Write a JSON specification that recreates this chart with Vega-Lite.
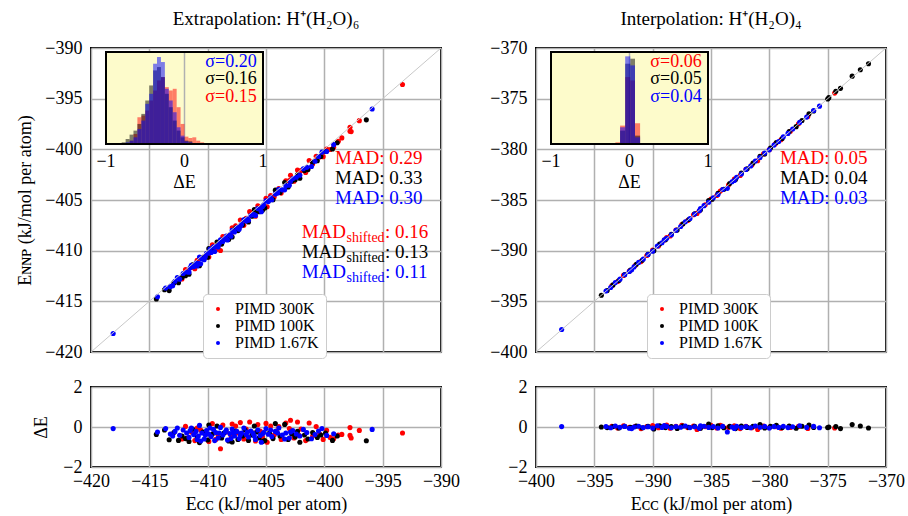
{
"$schema": "https://vega.github.io/schema/vega-lite/v6.json",
"padding": {"left": 15, "top": 9, "right": 10, "bottom": 5},
"config": {
  "font": "Liberation Serif",
  "view": {"stroke": "black", "strokeWidth": 2},
  "axis": {"gridColor": "#b0b0b0", "gridWidth": 1.5, "gridOpacity": 1, "labelColor": "black", "titleColor": "black", "labelFontSize": 18, "titleFontSize": 18, "titleFontWeight": "normal", "ticks": false, "domain": false, "labelFont": "Liberation Serif", "titleFont": "Liberation Serif", "labelFlush": false, "labelOverlap": false},
  "legend": {"labelFontSize": 16, "labelFont": "Liberation Serif", "labelColor": "black", "symbolSize": 16, "symbolType": "circle", "symbolStrokeWidth": 0, "padding": 7, "rowPadding": 1, "labelOffset": 9, "fillColor": "#ffffff", "strokeColor": "#cccccc", "cornerRadius": 4},
  "title": {"font": "Liberation Serif", "fontSize": 19, "fontWeight": "normal", "color": "black", "offset": 10}
},
"datasets": {
"e": [
{"s":"PIMD 300K","x":-411.9,"y":-411.87,"d":0.03},
{"s":"PIMD 300K","x":-411.7,"y":-412.25,"d":-0.55},
{"s":"PIMD 300K","x":-411.1,"y":-411.78,"d":-0.68},
{"s":"PIMD 300K","x":-410.6,"y":-410.75,"d":-0.15},
{"s":"PIMD 300K","x":-409.6,"y":-409.43,"d":0.17},
{"s":"PIMD 300K","x":-409.3,"y":-409.92,"d":-0.62},
{"s":"PIMD 300K","x":-408.9,"y":-409.99,"d":-1.09},
{"s":"PIMD 300K","x":-408.7,"y":-408.60,"d":0.10},
{"s":"PIMD 300K","x":-408.0,"y":-408.45,"d":-0.45},
{"s":"PIMD 300K","x":-407.6,"y":-407.55,"d":0.05},
{"s":"PIMD 300K","x":-407.2,"y":-406.98,"d":0.22},
{"s":"PIMD 300K","x":-406.9,"y":-407.50,"d":-0.60},
{"s":"PIMD 300K","x":-406.4,"y":-406.15,"d":0.25},
{"s":"PIMD 300K","x":-406.1,"y":-406.40,"d":-0.30},
{"s":"PIMD 300K","x":-405.7,"y":-405.58,"d":0.12},
{"s":"PIMD 300K","x":-405.3,"y":-405.80,"d":-0.50},
{"s":"PIMD 300K","x":-404.9,"y":-405.66,"d":-0.76},
{"s":"PIMD 300K","x":-404.6,"y":-404.55,"d":0.05},
{"s":"PIMD 300K","x":-404.1,"y":-404.30,"d":-0.20},
{"s":"PIMD 300K","x":-403.7,"y":-404.32,"d":-0.62},
{"s":"PIMD 300K","x":-403.3,"y":-403.10,"d":0.20},
{"s":"PIMD 300K","x":-402.9,"y":-402.56,"d":0.34},
{"s":"PIMD 300K","x":-402.6,"y":-403.15,"d":-0.55},
{"s":"PIMD 300K","x":-402.3,"y":-402.05,"d":0.25},
{"s":"PIMD 300K","x":-402.0,"y":-402.10,"d":-0.10},
{"s":"PIMD 300K","x":-401.6,"y":-402.28,"d":-0.68},
{"s":"PIMD 300K","x":-401.3,"y":-401.10,"d":0.20},
{"s":"PIMD 300K","x":-401.0,"y":-401.45,"d":-0.45},
{"s":"PIMD 300K","x":-400.7,"y":-400.68,"d":0.02},
{"s":"PIMD 300K","x":-400.4,"y":-400.75,"d":-0.35},
{"s":"PIMD 300K","x":-399.8,"y":-399.97,"d":-0.17},
{"s":"PIMD 300K","x":-399.5,"y":-400.02,"d":-0.52},
{"s":"PIMD 300K","x":-399.2,"y":-399.79,"d":-0.59},
{"s":"PIMD 300K","x":-398.8,"y":-399.20,"d":-0.40},
{"s":"PIMD 300K","x":-398.5,"y":-398.87,"d":-0.37},
{"s":"PIMD 300K","x":-397.8,"y":-397.83,"d":-0.03},
{"s":"PIMD 300K","x":-397.8,"y":-398.22,"d":-0.42},
{"s":"PIMD 300K","x":-397.7,"y":-398.25,"d":-0.55},
{"s":"PIMD 300K","x":-397.0,"y":-397.17,"d":-0.17},
{"s":"PIMD 300K","x":-393.3,"y":-393.60,"d":-0.30},
{"s":"PIMD 300K","x":-410.2,"y":-410.55,"d":-0.35},
{"s":"PIMD 300K","x":-409.9,"y":-410.62,"d":-0.72},
{"s":"PIMD 300K","x":-408.4,"y":-408.65,"d":-0.25},
{"s":"PIMD 300K","x":-407.9,"y":-407.75,"d":0.15},
{"s":"PIMD 300K","x":-406.7,"y":-406.80,"d":-0.10},
{"s":"PIMD 300K","x":-405.9,"y":-406.60,"d":-0.70},
{"s":"PIMD 300K","x":-405.0,"y":-404.82,"d":0.18},
{"s":"PIMD 300K","x":-404.3,"y":-404.70,"d":-0.40},
{"s":"PIMD 300K","x":-403.0,"y":-403.08,"d":-0.08},
{"s":"PIMD 300K","x":-412.2,"y":-412.80,"d":-0.60},
{"s":"PIMD 300K","x":-411.4,"y":-411.65,"d":-0.25},
{"s":"PIMD 300K","x":-400.1,"y":-400.72,"d":-0.62},
{"s":"PIMD 300K","x":-410.9,"y":-410.95,"d":-0.05},
{"s":"PIMD 300K","x":-409.1,"y":-409.50,"d":-0.40},
{"s":"PIMD 300K","x":-407.4,"y":-407.70,"d":-0.30},
{"s":"PIMD 300K","x":-405.5,"y":-405.70,"d":-0.20},
{"s":"PIMD 300K","x":-403.9,"y":-403.88,"d":0.02},
{"s":"PIMD 300K","x":-402.2,"y":-402.60,"d":-0.40},
{"s":"PIMD 100K","x":-414.4,"y":-414.77,"d":-0.37},
{"s":"PIMD 100K","x":-413.3,"y":-413.94,"d":-0.64},
{"s":"PIMD 100K","x":-413.7,"y":-413.85,"d":-0.15},
{"s":"PIMD 100K","x":-412.5,"y":-413.17,"d":-0.67},
{"s":"PIMD 100K","x":-412.9,"y":-413.18,"d":-0.28},
{"s":"PIMD 100K","x":-411.6,"y":-412.32,"d":-0.72},
{"s":"PIMD 100K","x":-412.2,"y":-412.65,"d":-0.45},
{"s":"PIMD 100K","x":-411.3,"y":-411.40,"d":-0.10},
{"s":"PIMD 100K","x":-410.9,"y":-411.40,"d":-0.50},
{"s":"PIMD 100K","x":-410.4,"y":-410.65,"d":-0.25},
{"s":"PIMD 100K","x":-410.0,"y":-410.65,"d":-0.65},
{"s":"PIMD 100K","x":-409.6,"y":-409.95,"d":-0.35},
{"s":"PIMD 100K","x":-409.2,"y":-409.15,"d":0.05},
{"s":"PIMD 100K","x":-408.8,"y":-409.35,"d":-0.55},
{"s":"PIMD 100K","x":-408.6,"y":-408.90,"d":-0.30},
{"s":"PIMD 100K","x":-408.2,"y":-408.90,"d":-0.70},
{"s":"PIMD 100K","x":-407.6,"y":-407.80,"d":-0.20},
{"s":"PIMD 100K","x":-407.4,"y":-408.02,"d":-0.62},
{"s":"PIMD 100K","x":-407.0,"y":-407.45,"d":-0.45},
{"s":"PIMD 100K","x":-406.8,"y":-406.95,"d":-0.15},
{"s":"PIMD 100K","x":-406.5,"y":-407.17,"d":-0.67},
{"s":"PIMD 100K","x":-406.2,"y":-406.60,"d":-0.40},
{"s":"PIMD 100K","x":-405.8,"y":-406.05,"d":-0.25},
{"s":"PIMD 100K","x":-405.6,"y":-406.15,"d":-0.55},
{"s":"PIMD 100K","x":-405.1,"y":-405.78,"d":-0.68},
{"s":"PIMD 100K","x":-404.7,"y":-405.00,"d":-0.30},
{"s":"PIMD 100K","x":-404.2,"y":-404.03,"d":0.17},
{"s":"PIMD 100K","x":-404.4,"y":-404.98,"d":-0.58},
{"s":"PIMD 100K","x":-403.8,"y":-404.25,"d":-0.45},
{"s":"PIMD 100K","x":-403.4,"y":-403.27,"d":0.13},
{"s":"PIMD 100K","x":-403.1,"y":-403.72,"d":-0.62},
{"s":"PIMD 100K","x":-402.8,"y":-403.15,"d":-0.35},
{"s":"PIMD 100K","x":-402.5,"y":-403.00,"d":-0.50},
{"s":"PIMD 100K","x":-402.1,"y":-402.86,"d":-0.76},
{"s":"PIMD 100K","x":-402.3,"y":-402.52,"d":-0.22},
{"s":"PIMD 100K","x":-401.7,"y":-402.10,"d":-0.40},
{"s":"PIMD 100K","x":-401.4,"y":-402.00,"d":-0.60},
{"s":"PIMD 100K","x":-401.0,"y":-401.28,"d":-0.28},
{"s":"PIMD 100K","x":-400.6,"y":-401.12,"d":-0.52},
{"s":"PIMD 100K","x":-400.3,"y":-400.70,"d":-0.40},
{"s":"PIMD 100K","x":-399.9,"y":-400.20,"d":-0.30},
{"s":"PIMD 100K","x":-399.3,"y":-399.97,"d":-0.67},
{"s":"PIMD 100K","x":-398.9,"y":-399.35,"d":-0.45},
{"s":"PIMD 100K","x":-396.4,"y":-397.09,"d":-0.69},
{"s":"PIMD 100K","x":-407.9,"y":-408.65,"d":-0.75},
{"s":"PIMD 100K","x":-409.9,"y":-409.80,"d":0.10},
{"s":"PIMD 100K","x":-406.0,"y":-405.95,"d":0.05},
{"s":"PIMD 100K","x":-411.9,"y":-412.48,"d":-0.58},
{"s":"PIMD 100K","x":-410.7,"y":-411.48,"d":-0.78},
{"s":"PIMD 100K","x":-405.3,"y":-406.02,"d":-0.72},
{"s":"PIMD 1.67K","x":-418.1,"y":-418.18,"d":-0.08},
{"s":"PIMD 1.67K","x":-414.3,"y":-414.55,"d":-0.25},
{"s":"PIMD 1.67K","x":-413.6,"y":-413.68,"d":-0.08},
{"s":"PIMD 1.67K","x":-413.2,"y":-413.55,"d":-0.35},
{"s":"PIMD 1.67K","x":-412.8,"y":-413.02,"d":-0.22},
{"s":"PIMD 1.67K","x":-412.4,"y":-412.81,"d":-0.41},
{"s":"PIMD 1.67K","x":-412.1,"y":-412.25,"d":-0.15},
{"s":"PIMD 1.67K","x":-411.8,"y":-412.10,"d":-0.30},
{"s":"PIMD 1.67K","x":-411.6,"y":-412.12,"d":-0.52},
{"s":"PIMD 1.67K","x":-411.4,"y":-411.45,"d":-0.05},
{"s":"PIMD 1.67K","x":-411.2,"y":-411.58,"d":-0.38},
{"s":"PIMD 1.67K","x":-411.0,"y":-411.22,"d":-0.22},
{"s":"PIMD 1.67K","x":-410.8,"y":-411.25,"d":-0.45},
{"s":"PIMD 1.67K","x":-410.7,"y":-410.62,"d":0.08},
{"s":"PIMD 1.67K","x":-410.5,"y":-410.80,"d":-0.30},
{"s":"PIMD 1.67K","x":-410.3,"y":-410.90,"d":-0.60},
{"s":"PIMD 1.67K","x":-410.1,"y":-410.28,"d":-0.18},
{"s":"PIMD 1.67K","x":-409.9,"y":-410.25,"d":-0.35},
{"s":"PIMD 1.67K","x":-409.7,"y":-410.18,"d":-0.48},
{"s":"PIMD 1.67K","x":-409.5,"y":-409.62,"d":-0.12},
{"s":"PIMD 1.67K","x":-409.3,"y":-409.58,"d":-0.28},
{"s":"PIMD 1.67K","x":-409.1,"y":-409.65,"d":-0.55},
{"s":"PIMD 1.67K","x":-408.9,"y":-408.92,"d":-0.02},
{"s":"PIMD 1.67K","x":-408.7,"y":-409.10,"d":-0.40},
{"s":"PIMD 1.67K","x":-408.5,"y":-408.75,"d":-0.25},
{"s":"PIMD 1.67K","x":-408.3,"y":-408.95,"d":-0.65},
{"s":"PIMD 1.67K","x":-408.1,"y":-408.43,"d":-0.33},
{"s":"PIMD 1.67K","x":-407.9,"y":-408.00,"d":-0.10},
{"s":"PIMD 1.67K","x":-407.7,"y":-408.15,"d":-0.45},
{"s":"PIMD 1.67K","x":-407.5,"y":-407.72,"d":-0.22},
{"s":"PIMD 1.67K","x":-407.3,"y":-407.88,"d":-0.58},
{"s":"PIMD 1.67K","x":-407.1,"y":-407.40,"d":-0.30},
{"s":"PIMD 1.67K","x":-406.9,"y":-406.95,"d":-0.05},
{"s":"PIMD 1.67K","x":-406.7,"y":-407.08,"d":-0.38},
{"s":"PIMD 1.67K","x":-406.5,"y":-407.00,"d":-0.50},
{"s":"PIMD 1.67K","x":-406.3,"y":-406.50,"d":-0.20},
{"s":"PIMD 1.67K","x":-406.1,"y":-406.42,"d":-0.32},
{"s":"PIMD 1.67K","x":-405.9,"y":-406.52,"d":-0.62},
{"s":"PIMD 1.67K","x":-405.7,"y":-405.85,"d":-0.15},
{"s":"PIMD 1.67K","x":-405.5,"y":-405.92,"d":-0.42},
{"s":"PIMD 1.67K","x":-405.4,"y":-406.16,"d":-0.76},
{"s":"PIMD 1.67K","x":-405.2,"y":-405.48,"d":-0.28},
{"s":"PIMD 1.67K","x":-405.0,"y":-405.08,"d":-0.08},
{"s":"PIMD 1.67K","x":-404.8,"y":-405.16,"d":-0.36},
{"s":"PIMD 1.67K","x":-404.5,"y":-404.98,"d":-0.48},
{"s":"PIMD 1.67K","x":-404.2,"y":-404.42,"d":-0.22},
{"s":"PIMD 1.67K","x":-403.9,"y":-403.95,"d":-0.05},
{"s":"PIMD 1.67K","x":-403.6,"y":-404.00,"d":-0.40},
{"s":"PIMD 1.67K","x":-403.3,"y":-403.60,"d":-0.30},
{"s":"PIMD 1.67K","x":-403.0,"y":-403.55,"d":-0.55},
{"s":"PIMD 1.67K","x":-402.7,"y":-402.88,"d":-0.18},
{"s":"PIMD 1.67K","x":-402.4,"y":-402.75,"d":-0.35},
{"s":"PIMD 1.67K","x":-402.1,"y":-402.55,"d":-0.45},
{"s":"PIMD 1.67K","x":-401.8,"y":-401.92,"d":-0.12},
{"s":"PIMD 1.67K","x":-401.5,"y":-401.78,"d":-0.28},
{"s":"PIMD 1.67K","x":-401.1,"y":-401.69,"d":-0.59},
{"s":"PIMD 1.67K","x":-400.8,"y":-401.18,"d":-0.38},
{"s":"PIMD 1.67K","x":-400.5,"y":-400.70,"d":-0.20},
{"s":"PIMD 1.67K","x":-400.2,"y":-400.28,"d":-0.08},
{"s":"PIMD 1.67K","x":-399.8,"y":-400.22,"d":-0.42},
{"s":"PIMD 1.67K","x":-399.2,"y":-399.54,"d":-0.34},
{"s":"PIMD 1.67K","x":-395.9,"y":-396.02,"d":-0.12},
{"s":"PIMD 1.67K","x":-411.5,"y":-411.68,"d":-0.18},
{"s":"PIMD 1.67K","x":-410.9,"y":-411.52,"d":-0.62},
{"s":"PIMD 1.67K","x":-410.2,"y":-410.60,"d":-0.40},
{"s":"PIMD 1.67K","x":-409.8,"y":-409.85,"d":-0.05},
{"s":"PIMD 1.67K","x":-409.0,"y":-409.30,"d":-0.30},
{"s":"PIMD 1.67K","x":-408.4,"y":-408.55,"d":-0.15},
{"s":"PIMD 1.67K","x":-407.8,"y":-408.08,"d":-0.28},
{"s":"PIMD 1.67K","x":-407.2,"y":-407.60,"d":-0.40},
{"s":"PIMD 1.67K","x":-406.6,"y":-406.85,"d":-0.25},
{"s":"PIMD 1.67K","x":-406.0,"y":-406.45,"d":-0.45},
{"s":"PIMD 1.67K","x":-405.3,"y":-405.65,"d":-0.35},
{"s":"PIMD 1.67K","x":-404.6,"y":-404.75,"d":-0.15},
{"s":"PIMD 1.67K","x":-404.0,"y":-404.30,"d":-0.30},
{"s":"PIMD 1.67K","x":-403.4,"y":-404.00,"d":-0.60},
{"s":"PIMD 1.67K","x":-402.9,"y":-403.15,"d":-0.25},
{"s":"PIMD 1.67K","x":-410.6,"y":-411.30,"d":-0.70},
{"s":"PIMD 1.67K","x":-409.4,"y":-410.08,"d":-0.68},
{"s":"PIMD 1.67K","x":-408.0,"y":-408.58,"d":-0.58},
{"s":"PIMD 1.67K","x":-412.6,"y":-412.65,"d":-0.05},
{"s":"PIMD 1.67K","x":-413.0,"y":-413.45,"d":-0.45}
],
"i": [
{"s":"PIMD 300K","x":-393.5,"y":-393.47,"d":0.03},
{"s":"PIMD 300K","x":-393.0,"y":-393.05,"d":-0.05},
{"s":"PIMD 300K","x":-392.5,"y":-392.44,"d":0.06},
{"s":"PIMD 300K","x":-392.0,"y":-392.02,"d":-0.02},
{"s":"PIMD 300K","x":-391.5,"y":-391.46,"d":0.04},
{"s":"PIMD 300K","x":-391.0,"y":-391.08,"d":-0.08},
{"s":"PIMD 300K","x":-390.5,"y":-390.48,"d":0.02},
{"s":"PIMD 300K","x":-390.0,"y":-389.93,"d":0.07},
{"s":"PIMD 300K","x":-389.5,"y":-389.54,"d":-0.04},
{"s":"PIMD 300K","x":-389.0,"y":-388.95,"d":0.05},
{"s":"PIMD 300K","x":-388.5,"y":-388.56,"d":-0.06},
{"s":"PIMD 300K","x":-388.0,"y":-387.97,"d":0.03},
{"s":"PIMD 300K","x":-387.5,"y":-387.42,"d":0.08},
{"s":"PIMD 300K","x":-387.0,"y":-387.03,"d":-0.03},
{"s":"PIMD 300K","x":-386.5,"y":-386.45,"d":0.05},
{"s":"PIMD 300K","x":-386.0,"y":-386.07,"d":-0.07},
{"s":"PIMD 300K","x":-385.5,"y":-385.48,"d":0.02},
{"s":"PIMD 300K","x":-385.0,"y":-384.91,"d":0.09},
{"s":"PIMD 300K","x":-384.5,"y":-384.55,"d":-0.05},
{"s":"PIMD 300K","x":-384.0,"y":-383.96,"d":0.04},
{"s":"PIMD 300K","x":-383.5,"y":-383.52,"d":-0.02},
{"s":"PIMD 300K","x":-383.0,"y":-382.94,"d":0.06},
{"s":"PIMD 300K","x":-382.5,"y":-382.58,"d":-0.08},
{"s":"PIMD 300K","x":-382.0,"y":-381.97,"d":0.03},
{"s":"PIMD 300K","x":-381.5,"y":-381.54,"d":-0.04},
{"s":"PIMD 300K","x":-381.0,"y":-381.12,"d":-0.12},
{"s":"PIMD 300K","x":-380.5,"y":-380.45,"d":0.05},
{"s":"PIMD 300K","x":-380.0,"y":-380.03,"d":-0.03},
{"s":"PIMD 300K","x":-379.5,"y":-379.48,"d":0.02},
{"s":"PIMD 300K","x":-379.0,"y":-379.06,"d":-0.06},
{"s":"PIMD 300K","x":-378.2,"y":-378.22,"d":-0.02},
{"s":"PIMD 300K","x":-377.5,"y":-377.47,"d":0.03},
{"s":"PIMD 300K","x":-376.7,"y":-376.77,"d":-0.07},
{"s":"PIMD 300K","x":-374.4,"y":-374.45,"d":-0.05},
{"s":"PIMD 300K","x":-388.8,"y":-388.70,"d":0.10},
{"s":"PIMD 300K","x":-386.2,"y":-386.32,"d":-0.12},
{"s":"PIMD 300K","x":-384.2,"y":-384.12,"d":0.08},
{"s":"PIMD 100K","x":-394.4,"y":-394.40,"d":0.00},
{"s":"PIMD 100K","x":-393.9,"y":-393.93,"d":-0.03},
{"s":"PIMD 100K","x":-393.4,"y":-393.38,"d":0.02},
{"s":"PIMD 100K","x":-392.9,"y":-392.95,"d":-0.05},
{"s":"PIMD 100K","x":-392.4,"y":-392.36,"d":0.04},
{"s":"PIMD 100K","x":-391.9,"y":-391.92,"d":-0.02},
{"s":"PIMD 100K","x":-391.4,"y":-391.35,"d":0.05},
{"s":"PIMD 100K","x":-390.9,"y":-390.94,"d":-0.04},
{"s":"PIMD 100K","x":-390.4,"y":-390.37,"d":0.03},
{"s":"PIMD 100K","x":-389.9,"y":-390.00,"d":-0.10},
{"s":"PIMD 100K","x":-389.4,"y":-389.34,"d":0.06},
{"s":"PIMD 100K","x":-388.9,"y":-388.93,"d":-0.03},
{"s":"PIMD 100K","x":-388.4,"y":-388.38,"d":0.02},
{"s":"PIMD 100K","x":-387.9,"y":-387.97,"d":-0.07},
{"s":"PIMD 100K","x":-387.4,"y":-387.35,"d":0.05},
{"s":"PIMD 100K","x":-386.9,"y":-386.92,"d":-0.02},
{"s":"PIMD 100K","x":-386.4,"y":-386.36,"d":0.04},
{"s":"PIMD 100K","x":-385.9,"y":-385.96,"d":-0.06},
{"s":"PIMD 100K","x":-385.2,"y":-385.05,"d":0.15},
{"s":"PIMD 100K","x":-384.9,"y":-384.93,"d":-0.03},
{"s":"PIMD 100K","x":-384.4,"y":-384.34,"d":0.06},
{"s":"PIMD 100K","x":-383.9,"y":-383.94,"d":-0.04},
{"s":"PIMD 100K","x":-383.4,"y":-383.37,"d":0.03},
{"s":"PIMD 100K","x":-382.9,"y":-382.98,"d":-0.08},
{"s":"PIMD 100K","x":-382.4,"y":-382.35,"d":0.05},
{"s":"PIMD 100K","x":-381.9,"y":-381.92,"d":-0.02},
{"s":"PIMD 100K","x":-381.4,"y":-381.36,"d":0.04},
{"s":"PIMD 100K","x":-380.8,"y":-380.68,"d":0.12},
{"s":"PIMD 100K","x":-380.4,"y":-380.45,"d":-0.05},
{"s":"PIMD 100K","x":-379.9,"y":-379.87,"d":0.03},
{"s":"PIMD 100K","x":-379.4,"y":-379.32,"d":0.08},
{"s":"PIMD 100K","x":-378.9,"y":-378.93,"d":-0.03},
{"s":"PIMD 100K","x":-378.3,"y":-378.25,"d":0.05},
{"s":"PIMD 100K","x":-377.7,"y":-377.76,"d":-0.06},
{"s":"PIMD 100K","x":-377.2,"y":-377.16,"d":0.04},
{"s":"PIMD 100K","x":-376.6,"y":-376.50,"d":0.10},
{"s":"PIMD 100K","x":-376.2,"y":-376.22,"d":-0.02},
{"s":"PIMD 100K","x":-375.0,"y":-375.03,"d":-0.03},
{"s":"PIMD 100K","x":-374.9,"y":-374.90,"d":0.00},
{"s":"PIMD 100K","x":-374.3,"y":-374.28,"d":0.02},
{"s":"PIMD 100K","x":-373.9,"y":-373.98,"d":-0.08},
{"s":"PIMD 100K","x":-372.9,"y":-372.78,"d":0.12},
{"s":"PIMD 100K","x":-372.2,"y":-372.15,"d":0.05},
{"s":"PIMD 100K","x":-371.5,"y":-371.55,"d":-0.05},
{"s":"PIMD 1.67K","x":-397.8,"y":-397.78,"d":0.02},
{"s":"PIMD 1.67K","x":-394.0,"y":-393.98,"d":0.02},
{"s":"PIMD 1.67K","x":-393.6,"y":-393.64,"d":-0.04},
{"s":"PIMD 1.67K","x":-393.2,"y":-393.15,"d":0.05},
{"s":"PIMD 1.67K","x":-392.8,"y":-392.81,"d":-0.01},
{"s":"PIMD 1.67K","x":-392.4,"y":-392.37,"d":0.03},
{"s":"PIMD 1.67K","x":-392.0,"y":-392.06,"d":-0.06},
{"s":"PIMD 1.67K","x":-391.6,"y":-391.60,"d":0.00},
{"s":"PIMD 1.67K","x":-391.2,"y":-391.16,"d":0.04},
{"s":"PIMD 1.67K","x":-390.8,"y":-390.83,"d":-0.03},
{"s":"PIMD 1.67K","x":-390.4,"y":-390.39,"d":0.01},
{"s":"PIMD 1.67K","x":-390.0,"y":-390.05,"d":-0.05},
{"s":"PIMD 1.67K","x":-389.6,"y":-389.54,"d":0.06},
{"s":"PIMD 1.67K","x":-389.2,"y":-389.22,"d":-0.02},
{"s":"PIMD 1.67K","x":-388.8,"y":-388.77,"d":0.03},
{"s":"PIMD 1.67K","x":-388.4,"y":-388.44,"d":-0.04},
{"s":"PIMD 1.67K","x":-388.0,"y":-387.98,"d":0.02},
{"s":"PIMD 1.67K","x":-387.6,"y":-387.61,"d":-0.01},
{"s":"PIMD 1.67K","x":-387.2,"y":-387.15,"d":0.05},
{"s":"PIMD 1.67K","x":-386.8,"y":-386.83,"d":-0.03},
{"s":"PIMD 1.67K","x":-386.4,"y":-386.39,"d":0.01},
{"s":"PIMD 1.67K","x":-386.0,"y":-386.06,"d":-0.06},
{"s":"PIMD 1.67K","x":-385.6,"y":-385.56,"d":0.04},
{"s":"PIMD 1.67K","x":-385.2,"y":-385.22,"d":-0.02},
{"s":"PIMD 1.67K","x":-384.8,"y":-384.78,"d":0.02},
{"s":"PIMD 1.67K","x":-384.4,"y":-384.45,"d":-0.05},
{"s":"PIMD 1.67K","x":-384.0,"y":-383.97,"d":0.03},
{"s":"PIMD 1.67K","x":-383.6,"y":-383.85,"d":-0.25},
{"s":"PIMD 1.67K","x":-383.2,"y":-383.20,"d":0.00},
{"s":"PIMD 1.67K","x":-382.8,"y":-382.76,"d":0.04},
{"s":"PIMD 1.67K","x":-382.4,"y":-382.43,"d":-0.03},
{"s":"PIMD 1.67K","x":-382.0,"y":-381.98,"d":0.02},
{"s":"PIMD 1.67K","x":-381.6,"y":-381.64,"d":-0.04},
{"s":"PIMD 1.67K","x":-381.2,"y":-381.15,"d":0.05},
{"s":"PIMD 1.67K","x":-380.8,"y":-380.81,"d":-0.01},
{"s":"PIMD 1.67K","x":-380.4,"y":-380.37,"d":0.03},
{"s":"PIMD 1.67K","x":-380.0,"y":-380.05,"d":-0.05},
{"s":"PIMD 1.67K","x":-379.6,"y":-379.58,"d":0.02},
{"s":"PIMD 1.67K","x":-379.2,"y":-379.22,"d":-0.02},
{"s":"PIMD 1.67K","x":-378.8,"y":-378.76,"d":0.04},
{"s":"PIMD 1.67K","x":-378.4,"y":-378.43,"d":-0.03},
{"s":"PIMD 1.67K","x":-378.0,"y":-377.99,"d":0.01},
{"s":"PIMD 1.67K","x":-377.4,"y":-377.34,"d":0.06},
{"s":"PIMD 1.67K","x":-376.8,"y":-376.82,"d":-0.02},
{"s":"PIMD 1.67K","x":-376.2,"y":-376.17,"d":0.03},
{"s":"PIMD 1.67K","x":-375.7,"y":-375.74,"d":-0.04},
{"s":"PIMD 1.67K","x":-391.8,"y":-391.88,"d":-0.08},
{"s":"PIMD 1.67K","x":-389.0,"y":-388.93,"d":0.07},
{"s":"PIMD 1.67K","x":-385.9,"y":-385.84,"d":0.06},
{"s":"PIMD 1.67K","x":-383.0,"y":-383.07,"d":-0.07}
],
"he": [
{"s":"PIMD 300K","b0":-0.70,"b1":-0.65,"c":10},
{"s":"PIMD 300K","b0":-0.65,"b1":-0.60,"c":30},
{"s":"PIMD 300K","b0":-0.60,"b1":-0.55,"c":80},
{"s":"PIMD 300K","b0":-0.55,"b1":-0.50,"c":85},
{"s":"PIMD 300K","b0":-0.50,"b1":-0.45,"c":100},
{"s":"PIMD 300K","b0":-0.45,"b1":-0.40,"c":130},
{"s":"PIMD 300K","b0":-0.40,"b1":-0.35,"c":160},
{"s":"PIMD 300K","b0":-0.35,"b1":-0.30,"c":190},
{"s":"PIMD 300K","b0":-0.30,"b1":-0.25,"c":200},
{"s":"PIMD 300K","b0":-0.25,"b1":-0.20,"c":170},
{"s":"PIMD 300K","b0":-0.20,"b1":-0.15,"c":160},
{"s":"PIMD 300K","b0":-0.15,"b1":-0.10,"c":165},
{"s":"PIMD 300K","b0":-0.10,"b1":-0.05,"c":110},
{"s":"PIMD 300K","b0":-0.05,"b1":0.00,"c":60},
{"s":"PIMD 300K","b0":0.00,"b1":0.05,"c":22},
{"s":"PIMD 300K","b0":0.05,"b1":0.10,"c":18},
{"s":"PIMD 300K","b0":0.10,"b1":0.15,"c":20},
{"s":"PIMD 300K","b0":0.15,"b1":0.20,"c":10},
{"s":"PIMD 300K","b0":0.20,"b1":0.25,"c":5},
{"s":"PIMD 100K","b0":-0.80,"b1":-0.75,"c":5},
{"s":"PIMD 100K","b0":-0.75,"b1":-0.70,"c":15},
{"s":"PIMD 100K","b0":-0.70,"b1":-0.65,"c":28},
{"s":"PIMD 100K","b0":-0.65,"b1":-0.60,"c":40},
{"s":"PIMD 100K","b0":-0.60,"b1":-0.55,"c":60},
{"s":"PIMD 100K","b0":-0.55,"b1":-0.50,"c":90},
{"s":"PIMD 100K","b0":-0.50,"b1":-0.45,"c":130},
{"s":"PIMD 100K","b0":-0.45,"b1":-0.40,"c":175},
{"s":"PIMD 100K","b0":-0.40,"b1":-0.35,"c":220},
{"s":"PIMD 100K","b0":-0.35,"b1":-0.30,"c":230},
{"s":"PIMD 100K","b0":-0.30,"b1":-0.25,"c":200},
{"s":"PIMD 100K","b0":-0.25,"b1":-0.20,"c":150},
{"s":"PIMD 100K","b0":-0.20,"b1":-0.15,"c":110},
{"s":"PIMD 100K","b0":-0.15,"b1":-0.10,"c":70},
{"s":"PIMD 100K","b0":-0.10,"b1":-0.05,"c":40},
{"s":"PIMD 100K","b0":-0.05,"b1":0.00,"c":20},
{"s":"PIMD 100K","b0":0.00,"b1":0.05,"c":10},
{"s":"PIMD 100K","b0":0.05,"b1":0.10,"c":8},
{"s":"PIMD 1.67K","b0":-0.75,"b1":-0.70,"c":5},
{"s":"PIMD 1.67K","b0":-0.70,"b1":-0.65,"c":10},
{"s":"PIMD 1.67K","b0":-0.65,"b1":-0.60,"c":20},
{"s":"PIMD 1.67K","b0":-0.60,"b1":-0.55,"c":45},
{"s":"PIMD 1.67K","b0":-0.55,"b1":-0.50,"c":70},
{"s":"PIMD 1.67K","b0":-0.50,"b1":-0.45,"c":120},
{"s":"PIMD 1.67K","b0":-0.45,"b1":-0.40,"c":150},
{"s":"PIMD 1.67K","b0":-0.40,"b1":-0.35,"c":240},
{"s":"PIMD 1.67K","b0":-0.35,"b1":-0.30,"c":260},
{"s":"PIMD 1.67K","b0":-0.30,"b1":-0.25,"c":245},
{"s":"PIMD 1.67K","b0":-0.25,"b1":-0.20,"c":165},
{"s":"PIMD 1.67K","b0":-0.20,"b1":-0.15,"c":130},
{"s":"PIMD 1.67K","b0":-0.15,"b1":-0.10,"c":95},
{"s":"PIMD 1.67K","b0":-0.10,"b1":-0.05,"c":50},
{"s":"PIMD 1.67K","b0":-0.05,"b1":0.00,"c":25},
{"s":"PIMD 1.67K","b0":0.00,"b1":0.05,"c":8},
{"s":"PIMD 1.67K","b0":0.05,"b1":0.10,"c":5},
{"s":"PIMD 1.67K","b0":0.10,"b1":0.15,"c":3}
],
"hi": [
{"s":"PIMD 300K","b0":-0.18,"b1":-0.12,"c":5},
{"s":"PIMD 300K","b0":-0.12,"b1":-0.055,"c":55},
{"s":"PIMD 300K","b0":-0.055,"b1":0.01,"c":200},
{"s":"PIMD 300K","b0":0.01,"b1":0.07,"c":190},
{"s":"PIMD 300K","b0":0.07,"b1":0.135,"c":62},
{"s":"PIMD 100K","b0":-0.12,"b1":-0.055,"c":40},
{"s":"PIMD 100K","b0":-0.055,"b1":0.01,"c":240},
{"s":"PIMD 100K","b0":0.01,"b1":0.07,"c":255},
{"s":"PIMD 100K","b0":0.07,"b1":0.135,"c":25},
{"s":"PIMD 1.67K","b0":-0.18,"b1":-0.12,"c":3},
{"s":"PIMD 1.67K","b0":-0.12,"b1":-0.055,"c":50},
{"s":"PIMD 1.67K","b0":-0.055,"b1":0.01,"c":262},
{"s":"PIMD 1.67K","b0":0.01,"b1":0.07,"c":235},
{"s":"PIMD 1.67K","b0":0.07,"b1":0.135,"c":20}
]
},
"vconcat": [
{
"hconcat": [
{
"width": 350, "height": 304,
"title": {"text": "Extrapolation: H⁺(H₂O)₆"},
"resolve": {"scale": {"x": "independent", "y": "independent"}},
"layer": [
{"data": {"name": "e"}, "mark": {"type": "circle", "size": 26, "opacity": 1},
 "encoding": {
  "x": {"field": "x", "type": "quantitative", "scale": {"domain": [-420, -390], "nice": false, "zero": false}, "axis": {"orient": "bottom", "values": [-420, -415, -410, -405, -400, -395, -390], "labels": false, "title": null}},
  "y": {"field": "y", "type": "quantitative", "scale": {"domain": [-420, -390], "nice": false, "zero": false}, "axis": {"orient": "left", "values": [-420, -415, -410, -405, -400, -395, -390], "format": "d", "title": "Eɴɴᴘ (kJ/mol per atom)", "labelPadding": 9, "titlePadding": 10}},
  "color": {"field": "s", "type": "nominal", "scale": {"domain": ["PIMD 300K", "PIMD 100K", "PIMD 1.67K"], "range": ["#ff0000", "#000000", "#0000ff"]}, "legend": {"orient": "none", "legendX": 112, "legendY": 246, "title": null}}
 }},
{"data": {"values": [{}]}, "mark": {"type": "rule", "color": "#c8c8c8", "strokeWidth": 1}, "encoding": {"x": {"datum": -420, "type": "quantitative", "scale": {"domain": [-420, -390], "nice": false, "zero": false}, "axis": null}, "y": {"datum": -420, "type": "quantitative", "scale": {"domain": [-420, -390], "nice": false, "zero": false}, "axis": null}, "x2": {"datum": -390}, "y2": {"datum": -390}}},
{"data": {"values": [{}]}, "mark": {"type": "text", "text": "MAD: 0.29", "color": "#ff0000", "fontSize": 19, "align": "left", "baseline": "alphabetic"}, "encoding": {"x": {"datum": -399.09, "type": "quantitative", "scale": {"domain": [-420, -390], "nice": false, "zero": false}, "axis": null}, "y": {"datum": -401.4, "type": "quantitative", "scale": {"domain": [-420, -390], "nice": false, "zero": false}, "axis": null}}},
{"data": {"values": [{}]}, "mark": {"type": "text", "text": "MAD: 0.33", "color": "#000000", "fontSize": 19, "align": "left", "baseline": "alphabetic"}, "encoding": {"x": {"datum": -399.09, "type": "quantitative", "scale": {"domain": [-420, -390], "nice": false, "zero": false}, "axis": null}, "y": {"datum": -403.42, "type": "quantitative", "scale": {"domain": [-420, -390], "nice": false, "zero": false}, "axis": null}}},
{"data": {"values": [{}]}, "mark": {"type": "text", "text": "MAD: 0.30", "color": "#0000ff", "fontSize": 19, "align": "left", "baseline": "alphabetic"}, "encoding": {"x": {"datum": -399.09, "type": "quantitative", "scale": {"domain": [-420, -390], "nice": false, "zero": false}, "axis": null}, "y": {"datum": -405.44, "type": "quantitative", "scale": {"domain": [-420, -390], "nice": false, "zero": false}, "axis": null}}},
{"data": {"values": [{}]}, "mark": {"type": "text", "text": "MAD", "color": "#ff0000", "fontSize": 19, "align": "left", "baseline": "alphabetic"}, "encoding": {"x": {"datum": -401.94, "type": "quantitative", "scale": {"domain": [-420, -390], "nice": false, "zero": false}, "axis": null}, "y": {"datum": -408.75, "type": "quantitative", "scale": {"domain": [-420, -390], "nice": false, "zero": false}, "axis": null}}},
{"data": {"values": [{}]}, "mark": {"type": "text", "text": "shifted", "color": "#ff0000", "fontSize": 14, "align": "left", "baseline": "alphabetic"}, "encoding": {"x": {"datum": -398.1, "type": "quantitative", "scale": {"domain": [-420, -390], "nice": false, "zero": false}, "axis": null}, "y": {"datum": -409.19, "type": "quantitative", "scale": {"domain": [-420, -390], "nice": false, "zero": false}, "axis": null}}},
{"data": {"values": [{}]}, "mark": {"type": "text", "text": ": 0.16", "color": "#ff0000", "fontSize": 19, "align": "left", "baseline": "alphabetic"}, "encoding": {"x": {"datum": -394.8, "type": "quantitative", "scale": {"domain": [-420, -390], "nice": false, "zero": false}, "axis": null}, "y": {"datum": -408.75, "type": "quantitative", "scale": {"domain": [-420, -390], "nice": false, "zero": false}, "axis": null}}},
{"data": {"values": [{}]}, "mark": {"type": "text", "text": "MAD", "color": "#000000", "fontSize": 19, "align": "left", "baseline": "alphabetic"}, "encoding": {"x": {"datum": -401.94, "type": "quantitative", "scale": {"domain": [-420, -390], "nice": false, "zero": false}, "axis": null}, "y": {"datum": -410.72, "type": "quantitative", "scale": {"domain": [-420, -390], "nice": false, "zero": false}, "axis": null}}},
{"data": {"values": [{}]}, "mark": {"type": "text", "text": "shifted", "color": "#000000", "fontSize": 14, "align": "left", "baseline": "alphabetic"}, "encoding": {"x": {"datum": -398.1, "type": "quantitative", "scale": {"domain": [-420, -390], "nice": false, "zero": false}, "axis": null}, "y": {"datum": -411.16, "type": "quantitative", "scale": {"domain": [-420, -390], "nice": false, "zero": false}, "axis": null}}},
{"data": {"values": [{}]}, "mark": {"type": "text", "text": ": 0.13", "color": "#000000", "fontSize": 19, "align": "left", "baseline": "alphabetic"}, "encoding": {"x": {"datum": -394.8, "type": "quantitative", "scale": {"domain": [-420, -390], "nice": false, "zero": false}, "axis": null}, "y": {"datum": -410.72, "type": "quantitative", "scale": {"domain": [-420, -390], "nice": false, "zero": false}, "axis": null}}},
{"data": {"values": [{}]}, "mark": {"type": "text", "text": "MAD", "color": "#0000ff", "fontSize": 19, "align": "left", "baseline": "alphabetic"}, "encoding": {"x": {"datum": -401.94, "type": "quantitative", "scale": {"domain": [-420, -390], "nice": false, "zero": false}, "axis": null}, "y": {"datum": -412.7, "type": "quantitative", "scale": {"domain": [-420, -390], "nice": false, "zero": false}, "axis": null}}},
{"data": {"values": [{}]}, "mark": {"type": "text", "text": "shifted", "color": "#0000ff", "fontSize": 14, "align": "left", "baseline": "alphabetic"}, "encoding": {"x": {"datum": -398.1, "type": "quantitative", "scale": {"domain": [-420, -390], "nice": false, "zero": false}, "axis": null}, "y": {"datum": -413.14, "type": "quantitative", "scale": {"domain": [-420, -390], "nice": false, "zero": false}, "axis": null}}},
{"data": {"values": [{}]}, "mark": {"type": "text", "text": ": 0.11", "color": "#0000ff", "fontSize": 19, "align": "left", "baseline": "alphabetic"}, "encoding": {"x": {"datum": -394.8, "type": "quantitative", "scale": {"domain": [-420, -390], "nice": false, "zero": false}, "axis": null}, "y": {"datum": -412.7, "type": "quantitative", "scale": {"domain": [-420, -390], "nice": false, "zero": false}, "axis": null}}},
{"data": {"values": [{}]}, "mark": {"type": "rect", "color": "#fdfbcb"}, "encoding": {
  "x": {"datum": -1, "type": "quantitative", "scale": {"domain": [-1, 1], "range": [15, 172], "nice": false, "zero": false}, "axis": null},
  "x2": {"datum": 1},
  "y": {"datum": 0, "type": "quantitative", "scale": {"domain": [0, 275], "range": [96, 4], "nice": false, "zero": false}, "axis": null},
  "y2": {"datum": 275}}},
{"data": {"values": [{}]}, "mark": {"type": "rule", "color": "#b0b0b0", "strokeWidth": 1.5}, "encoding": {"x": {"datum": 0, "type": "quantitative", "scale": {"domain": [-1, 1], "range": [15, 172], "nice": false, "zero": false}, "axis": null}, "y": {"datum": 0, "type": "quantitative", "scale": {"domain": [0, 275], "range": [96, 4], "nice": false, "zero": false}, "axis": null}, "y2": {"datum": 275}}},
{"data": {"name": "he"}, "mark": {"type": "rect", "opacity": 0.5}, "encoding": {"x": {"field": "b0", "type": "quantitative", "scale": {"domain": [-1, 1], "range": [15, 172], "nice": false, "zero": false}, "axis": null}, "x2": {"field": "b1"}, "y": {"field": "c", "type": "quantitative", "scale": {"domain": [0, 275], "range": [96, 4], "nice": false, "zero": false}, "axis": null}, "y2": {"datum": 0}, "color": {"field": "s", "type": "nominal", "legend": null}}},
{"data": {"values": [{}]}, "mark": {"type": "rect", "filled": false, "color": "black", "strokeWidth": 2}, "encoding": {"x": {"datum": -1, "type": "quantitative", "scale": {"domain": [-1, 1], "range": [15, 172], "nice": false, "zero": false}, "axis": null}, "x2": {"datum": 1}, "y": {"datum": 0, "type": "quantitative", "scale": {"domain": [0, 275], "range": [96, 4], "nice": false, "zero": false}, "axis": null}, "y2": {"datum": 275}}},
{"data": {"values": [{}]}, "mark": {"type": "text", "text": "σ=0.20", "color": "#0000ff", "fontSize": 18, "align": "right", "baseline": "alphabetic"}, "encoding": {"x": {"datum": 0.92, "type": "quantitative", "scale": {"domain": [-1, 1], "range": [15, 172], "nice": false, "zero": false}, "axis": null}, "y": {"datum": 230, "type": "quantitative", "scale": {"domain": [0, 275], "range": [96, 4], "nice": false, "zero": false}, "axis": null}}},
{"data": {"values": [{}]}, "mark": {"type": "text", "text": "σ=0.16", "color": "#000000", "fontSize": 18, "align": "right", "baseline": "alphabetic"}, "encoding": {"x": {"datum": 0.92, "type": "quantitative", "scale": {"domain": [-1, 1], "range": [15, 172], "nice": false, "zero": false}, "axis": null}, "y": {"datum": 178, "type": "quantitative", "scale": {"domain": [0, 275], "range": [96, 4], "nice": false, "zero": false}, "axis": null}}},
{"data": {"values": [{}]}, "mark": {"type": "text", "text": "σ=0.15", "color": "#ff0000", "fontSize": 18, "align": "right", "baseline": "alphabetic"}, "encoding": {"x": {"datum": 0.92, "type": "quantitative", "scale": {"domain": [-1, 1], "range": [15, 172], "nice": false, "zero": false}, "axis": null}, "y": {"datum": 125, "type": "quantitative", "scale": {"domain": [0, 275], "range": [96, 4], "nice": false, "zero": false}, "axis": null}}},
{"data": {"values": [{}]}, "mark": {"type": "text", "text": "−1", "color": "#000000", "fontSize": 18, "align": "center", "baseline": "top"}, "encoding": {"x": {"datum": -1, "type": "quantitative", "scale": {"domain": [-1, 1], "range": [15, 172], "nice": false, "zero": false}, "axis": null}, "y": {"datum": -27, "type": "quantitative", "scale": {"domain": [0, 275], "range": [96, 4], "nice": false, "zero": false}, "axis": null}}},
{"data": {"values": [{}]}, "mark": {"type": "text", "text": "0", "color": "#000000", "fontSize": 18, "align": "center", "baseline": "top"}, "encoding": {"x": {"datum": 0, "type": "quantitative", "scale": {"domain": [-1, 1], "range": [15, 172], "nice": false, "zero": false}, "axis": null}, "y": {"datum": -27, "type": "quantitative", "scale": {"domain": [0, 275], "range": [96, 4], "nice": false, "zero": false}, "axis": null}}},
{"data": {"values": [{}]}, "mark": {"type": "text", "text": "1", "color": "#000000", "fontSize": 18, "align": "center", "baseline": "top"}, "encoding": {"x": {"datum": 1, "type": "quantitative", "scale": {"domain": [-1, 1], "range": [15, 172], "nice": false, "zero": false}, "axis": null}, "y": {"datum": -27, "type": "quantitative", "scale": {"domain": [0, 275], "range": [96, 4], "nice": false, "zero": false}, "axis": null}}},
{"data": {"values": [{}]}, "mark": {"type": "text", "text": "ΔE", "color": "#000000", "fontSize": 18, "align": "center", "baseline": "top"}, "encoding": {"x": {"datum": 0, "type": "quantitative", "scale": {"domain": [-1, 1], "range": [15, 172], "nice": false, "zero": false}, "axis": null}, "y": {"datum": -90, "type": "quantitative", "scale": {"domain": [0, 275], "range": [96, 4], "nice": false, "zero": false}, "axis": null}}}
]
},
{
"width": 350, "height": 304,
"title": {"text": "Interpolation: H⁺(H₂O)₄"},
"resolve": {"scale": {"x": "independent", "y": "independent"}},
"layer": [
{"data": {"name": "i"}, "mark": {"type": "circle", "size": 26, "opacity": 1},
 "encoding": {
  "x": {"field": "x", "type": "quantitative", "scale": {"domain": [-400, -370], "nice": false, "zero": false}, "axis": {"orient": "bottom", "values": [-400, -395, -390, -385, -380, -375, -370], "labels": false, "title": null}},
  "y": {"field": "y", "type": "quantitative", "scale": {"domain": [-400, -370], "nice": false, "zero": false}, "axis": {"orient": "left", "values": [-400, -395, -390, -385, -380, -375, -370], "format": "d", "title": null, "labelPadding": 9}},
  "color": {"field": "s", "type": "nominal", "scale": {"domain": ["PIMD 300K", "PIMD 100K", "PIMD 1.67K"], "range": ["#ff0000", "#000000", "#0000ff"]}, "legend": {"orient": "none", "legendX": 111, "legendY": 246, "title": null}}
 }},
{"data": {"values": [{}]}, "mark": {"type": "rule", "color": "#c8c8c8", "strokeWidth": 1}, "encoding": {"x": {"datum": -400, "type": "quantitative", "scale": {"domain": [-400, -370], "nice": false, "zero": false}, "axis": null}, "y": {"datum": -400, "type": "quantitative", "scale": {"domain": [-400, -370], "nice": false, "zero": false}, "axis": null}, "x2": {"datum": -370}, "y2": {"datum": -370}}},
{"data": {"values": [{}]}, "mark": {"type": "text", "text": "MAD: 0.05", "color": "#ff0000", "fontSize": 19, "align": "left", "baseline": "alphabetic"}, "encoding": {"x": {"datum": -379.09, "type": "quantitative", "scale": {"domain": [-400, -370], "nice": false, "zero": false}, "axis": null}, "y": {"datum": -381.4, "type": "quantitative", "scale": {"domain": [-400, -370], "nice": false, "zero": false}, "axis": null}}},
{"data": {"values": [{}]}, "mark": {"type": "text", "text": "MAD: 0.04", "color": "#000000", "fontSize": 19, "align": "left", "baseline": "alphabetic"}, "encoding": {"x": {"datum": -379.09, "type": "quantitative", "scale": {"domain": [-400, -370], "nice": false, "zero": false}, "axis": null}, "y": {"datum": -383.42, "type": "quantitative", "scale": {"domain": [-400, -370], "nice": false, "zero": false}, "axis": null}}},
{"data": {"values": [{}]}, "mark": {"type": "text", "text": "MAD: 0.03", "color": "#0000ff", "fontSize": 19, "align": "left", "baseline": "alphabetic"}, "encoding": {"x": {"datum": -379.09, "type": "quantitative", "scale": {"domain": [-400, -370], "nice": false, "zero": false}, "axis": null}, "y": {"datum": -385.44, "type": "quantitative", "scale": {"domain": [-400, -370], "nice": false, "zero": false}, "axis": null}}},
{"data": {"values": [{}]}, "mark": {"type": "rect", "color": "#fdfbcb"}, "encoding": {
  "x": {"datum": -1, "type": "quantitative", "scale": {"domain": [-1, 1], "range": [15, 172], "nice": false, "zero": false}, "axis": null},
  "x2": {"datum": 1},
  "y": {"datum": 0, "type": "quantitative", "scale": {"domain": [0, 275], "range": [96, 4], "nice": false, "zero": false}, "axis": null},
  "y2": {"datum": 275}}},
{"data": {"values": [{}]}, "mark": {"type": "rule", "color": "#b0b0b0", "strokeWidth": 1.5}, "encoding": {"x": {"datum": 0, "type": "quantitative", "scale": {"domain": [-1, 1], "range": [15, 172], "nice": false, "zero": false}, "axis": null}, "y": {"datum": 0, "type": "quantitative", "scale": {"domain": [0, 275], "range": [96, 4], "nice": false, "zero": false}, "axis": null}, "y2": {"datum": 275}}},
{"data": {"name": "hi"}, "mark": {"type": "rect", "opacity": 0.5}, "encoding": {"x": {"field": "b0", "type": "quantitative", "scale": {"domain": [-1, 1], "range": [15, 172], "nice": false, "zero": false}, "axis": null}, "x2": {"field": "b1"}, "y": {"field": "c", "type": "quantitative", "scale": {"domain": [0, 275], "range": [96, 4], "nice": false, "zero": false}, "axis": null}, "y2": {"datum": 0}, "color": {"field": "s", "type": "nominal", "legend": null}}},
{"data": {"values": [{}]}, "mark": {"type": "rect", "filled": false, "color": "black", "strokeWidth": 2}, "encoding": {"x": {"datum": -1, "type": "quantitative", "scale": {"domain": [-1, 1], "range": [15, 172], "nice": false, "zero": false}, "axis": null}, "x2": {"datum": 1}, "y": {"datum": 0, "type": "quantitative", "scale": {"domain": [0, 275], "range": [96, 4], "nice": false, "zero": false}, "axis": null}, "y2": {"datum": 275}}},
{"data": {"values": [{}]}, "mark": {"type": "text", "text": "σ=0.06", "color": "#ff0000", "fontSize": 18, "align": "right", "baseline": "alphabetic"}, "encoding": {"x": {"datum": 0.92, "type": "quantitative", "scale": {"domain": [-1, 1], "range": [15, 172], "nice": false, "zero": false}, "axis": null}, "y": {"datum": 230, "type": "quantitative", "scale": {"domain": [0, 275], "range": [96, 4], "nice": false, "zero": false}, "axis": null}}},
{"data": {"values": [{}]}, "mark": {"type": "text", "text": "σ=0.05", "color": "#000000", "fontSize": 18, "align": "right", "baseline": "alphabetic"}, "encoding": {"x": {"datum": 0.92, "type": "quantitative", "scale": {"domain": [-1, 1], "range": [15, 172], "nice": false, "zero": false}, "axis": null}, "y": {"datum": 178, "type": "quantitative", "scale": {"domain": [0, 275], "range": [96, 4], "nice": false, "zero": false}, "axis": null}}},
{"data": {"values": [{}]}, "mark": {"type": "text", "text": "σ=0.04", "color": "#0000ff", "fontSize": 18, "align": "right", "baseline": "alphabetic"}, "encoding": {"x": {"datum": 0.92, "type": "quantitative", "scale": {"domain": [-1, 1], "range": [15, 172], "nice": false, "zero": false}, "axis": null}, "y": {"datum": 125, "type": "quantitative", "scale": {"domain": [0, 275], "range": [96, 4], "nice": false, "zero": false}, "axis": null}}},
{"data": {"values": [{}]}, "mark": {"type": "text", "text": "−1", "color": "#000000", "fontSize": 18, "align": "center", "baseline": "top"}, "encoding": {"x": {"datum": -1, "type": "quantitative", "scale": {"domain": [-1, 1], "range": [15, 172], "nice": false, "zero": false}, "axis": null}, "y": {"datum": -27, "type": "quantitative", "scale": {"domain": [0, 275], "range": [96, 4], "nice": false, "zero": false}, "axis": null}}},
{"data": {"values": [{}]}, "mark": {"type": "text", "text": "0", "color": "#000000", "fontSize": 18, "align": "center", "baseline": "top"}, "encoding": {"x": {"datum": 0, "type": "quantitative", "scale": {"domain": [-1, 1], "range": [15, 172], "nice": false, "zero": false}, "axis": null}, "y": {"datum": -27, "type": "quantitative", "scale": {"domain": [0, 275], "range": [96, 4], "nice": false, "zero": false}, "axis": null}}},
{"data": {"values": [{}]}, "mark": {"type": "text", "text": "1", "color": "#000000", "fontSize": 18, "align": "center", "baseline": "top"}, "encoding": {"x": {"datum": 1, "type": "quantitative", "scale": {"domain": [-1, 1], "range": [15, 172], "nice": false, "zero": false}, "axis": null}, "y": {"datum": -27, "type": "quantitative", "scale": {"domain": [0, 275], "range": [96, 4], "nice": false, "zero": false}, "axis": null}}},
{"data": {"values": [{}]}, "mark": {"type": "text", "text": "ΔE", "color": "#000000", "fontSize": 18, "align": "center", "baseline": "top"}, "encoding": {"x": {"datum": 0, "type": "quantitative", "scale": {"domain": [-1, 1], "range": [15, 172], "nice": false, "zero": false}, "axis": null}, "y": {"datum": -90, "type": "quantitative", "scale": {"domain": [0, 275], "range": [96, 4], "nice": false, "zero": false}, "axis": null}}}
]
}
],
"spacing": 95, "bounds": "flush",
"resolve": {"legend": {"color": "independent"}}
},
{
"hconcat": [
{
"width": 350, "height": 80,
"data": {"name": "e"},
"mark": {"type": "circle", "size": 26, "opacity": 1},
"encoding": {
  "x": {"field": "x", "type": "quantitative", "scale": {"domain": [-420, -390], "nice": false, "zero": false}, "axis": {"values": [-420, -415, -410, -405, -400, -395, -390], "format": "d", "title": "Eᴄᴄ (kJ/mol per atom)", "labelPadding": 5, "titlePadding": 5}},
  "y": {"field": "d", "type": "quantitative", "scale": {"domain": [-2, 2], "nice": false, "zero": false}, "axis": {"values": [-2, 0, 2], "format": "d", "title": "ΔE", "labelPadding": 9, "titlePadding": 12}},
  "color": {"field": "s", "type": "nominal", "scale": {"domain": ["PIMD 300K", "PIMD 100K", "PIMD 1.67K"], "range": ["#ff0000", "#000000", "#0000ff"]}, "legend": null}
}
},
{
"width": 350, "height": 80,
"data": {"name": "i"},
"mark": {"type": "circle", "size": 26, "opacity": 1},
"encoding": {
  "x": {"field": "x", "type": "quantitative", "scale": {"domain": [-400, -370], "nice": false, "zero": false}, "axis": {"values": [-400, -395, -390, -385, -380, -375, -370], "format": "d", "title": "Eᴄᴄ (kJ/mol per atom)", "labelPadding": 5, "titlePadding": 5}},
  "y": {"field": "d", "type": "quantitative", "scale": {"domain": [-2, 2], "nice": false, "zero": false}, "axis": {"values": [-2, 0, 2], "format": "d", "title": null, "labelPadding": 9}},
  "color": {"field": "s", "type": "nominal", "scale": {"domain": ["PIMD 300K", "PIMD 100K", "PIMD 1.67K"], "range": ["#ff0000", "#000000", "#0000ff"]}, "legend": null}
}
}
],
"spacing": 95, "bounds": "flush"
}
],
"spacing": 15,
"resolve": {"legend": {"color": "independent"}}
}
